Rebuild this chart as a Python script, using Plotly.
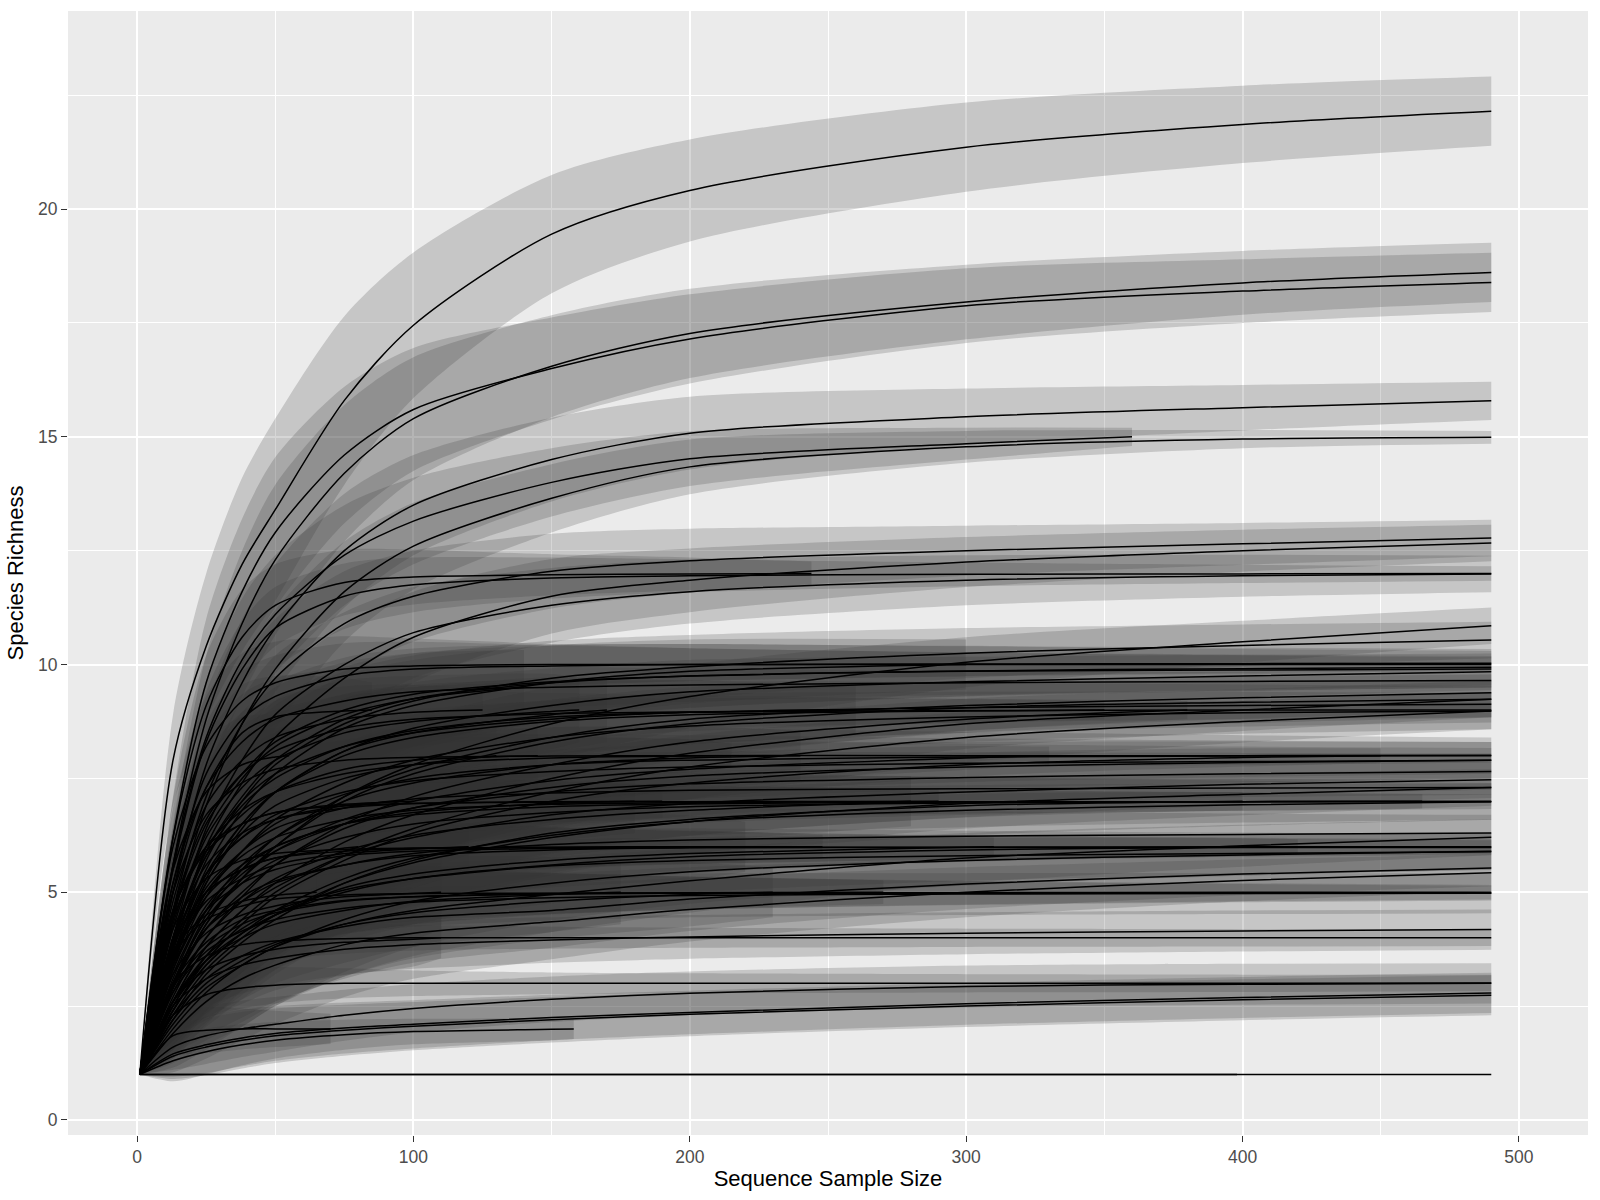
import plotly.graph_objects as go

SAMPLE_SIZES = [1, 13, 25, 38, 50, 75, 100, 150, 200, 300, 400, 490]

X_TICKS = [0, 100, 200, 300, 400, 500]
Y_TICKS = [0, 5, 10, 15, 20]

# Confidence half-width profiles (species), read at SAMPLE_SIZES
HW_A = [0, 1.0, 1.6, 1.9, 2.0, 1.85, 1.6, 1.3, 1.12, 0.98, 0.85, 0.76]
HW_B = [0, 0.9, 1.4, 1.6, 1.65, 1.5, 1.35, 1.12, 0.98, 0.82, 0.7, 0.65]
HW_C = [0, 0.8, 1.25, 1.4, 1.4, 1.25, 1.1, 0.92, 0.8, 0.62, 0.5, 0.42]
HW_CP = [0, 0.8, 1.25, 1.35, 1.3, 1.1, 0.95, 0.75, 0.6, 0.35, 0.2, 0.14]
HW_D = [0, 0.85, 1.25, 1.35, 1.3, 1.15, 1.0, 0.82, 0.7, 0.55, 0.46, 0.4]
HW_DP = [0, 0.85, 1.1, 1.05, 0.9, 0.72, 0.6, 0.45, 0.36, 0.26, 0.2, 0.16]
HW_L = [0, 0.5, 0.62, 0.62, 0.6, 0.56, 0.53, 0.5, 0.48, 0.46, 0.45, 0.44]
HW_LP = [0, 0.45, 0.5, 0.45, 0.4, 0.33, 0.28, 0.24, 0.22, 0.2, 0.19, 0.18]
HW_0 = [0] * 12

# Last sample size of each site's curve
SITE_END = [
    490, 490, 490, 490, 360, 490,               # C1-C6
    490, 490, 490, 244, 490, 490, 490,          # C7-C13
    490, 490, 490, 490, 490, 490, 490, 490,     # D1-D8
    490, 490, 490, 490, 490, 490, 490, 490,     # D9-D16
    490, 490, 490, 490, 490, 490,               # D17-D22
    85, 248, 465, 130, 190, 110,                # E1-E6
    490, 490,                                   # F4a, F4b
    490, 490, 490, 490, 70, 158,                # L1-L5
    490, 398,                                   # Y1, Y1b
    490, 490, 490, 490, 490, 490,               # N1-N6
    490, 490, 490, 490, 490, 490,               # N7-N12
    160, 215, 280, 330, 120, 175, 420,          # M1-M7
    260, 140, 300, 95, 230, 380,                # M8-M13
    450, 110, 65, 55, 180,                      # M15-M19
    240, 310, 170, 490, 400, 270, 145, 350,     # P1-P8
    220, 125, 100, 290, 80,                     # P9-P15
]

# Species richness of each site at SAMPLE_SIZES (up to and including its end)
SITE_RICHNESS = [
    [1, 7.9, 10.4, 12.2, 13.4, 15.8, 17.45, 19.45, 20.41, 21.36, 21.86, 22.15],
    [1, 5.6, 8.8, 10.9, 12.3, 14.2, 15.4, 16.55, 17.27, 17.96, 18.38, 18.61],
    [1, 6.2, 9.6, 11.6, 12.9, 14.6, 15.6, 16.5, 17.15, 17.88, 18.2, 18.39],
    [1, 5.0, 7.8, 9.6, 10.8, 12.5, 13.5, 14.5, 15.08, 15.44, 15.64, 15.79],
    [1, 5.6, 8.4, 10.1, 11.1, 12.4, 13.15, 14.0, 14.52, 14.85, 15.0],
    [1, 4.4, 6.9, 8.7, 9.9, 11.6, 12.6, 13.65, 14.34, 14.78, 14.95, 14.99],
    [1, 4.6, 7.1, 8.7, 9.7, 10.9, 11.5, 12.05, 12.28, 12.5, 12.65, 12.78],
    [1, 3.8, 6.0, 7.4, 8.4, 9.7, 10.6, 11.5, 11.85, 12.25, 12.5, 12.67],
    [1, 5.5, 8.3, 9.9, 10.8, 11.5, 11.75, 11.9, 11.95, 11.98, 11.99, 12.0],
    [1, 6.2, 9.1, 10.6, 11.3, 11.8, 11.92, 11.97, 11.99, 12.0],
    [1, 4.0, 6.4, 7.9, 8.9, 10.0, 10.7, 11.3, 11.6, 11.85, 11.95, 11.99],
    [1, 2.9, 4.3, 5.3, 6.0, 7.1, 7.8, 8.7, 9.3, 10.05, 10.5, 10.85],
    [1, 3.7, 5.7, 7.0, 7.8, 8.7, 9.2, 9.7, 9.95, 10.25, 10.42, 10.54],
    [1, 6.0, 8.2, 9.2, 9.6, 9.9, 9.97, 10.0, 10.0, 10.01, 10.02, 10.03],
    [1, 4.5, 6.5, 7.6, 8.3, 9.0, 9.35, 9.62, 9.75, 9.86, 9.91, 9.94],
    [1, 3.6, 5.4, 6.5, 7.2, 8.1, 8.6, 9.1, 9.4, 9.62, 9.75, 9.84],
    [1, 5.2, 7.3, 8.3, 8.8, 9.2, 9.4, 9.5, 9.55, 9.6, 9.63, 9.65],
    [1, 3.0, 4.5, 5.5, 6.2, 7.1, 7.7, 8.4, 8.8, 9.1, 9.27, 9.38],
    [1, 2.6, 3.8, 4.6, 5.2, 6.1, 6.7, 7.5, 8.05, 8.7, 9.0, 9.24],
    [1, 4.0, 5.9, 7.0, 7.6, 8.2, 8.5, 8.8, 8.95, 9.05, 9.1, 9.13],
    [1, 2.5, 3.6, 4.4, 5.0, 5.8, 6.4, 7.2, 7.75, 8.4, 8.75, 8.98],
    [1, 5.0, 6.7, 7.4, 7.7, 7.9, 7.96, 7.99, 8.0, 8.0, 8.0, 8.01],
    [1, 3.8, 5.4, 6.2, 6.7, 7.2, 7.45, 7.65, 7.75, 7.83, 7.87, 7.9],
    [1, 3.2, 4.6, 5.4, 5.9, 6.5, 6.85, 7.2, 7.38, 7.52, 7.6, 7.65],
    [1, 2.6, 3.8, 4.6, 5.1, 5.8, 6.2, 6.7, 6.95, 7.2, 7.37, 7.47],
    [1, 2.3, 3.3, 4.0, 4.5, 5.2, 5.65, 6.2, 6.55, 6.95, 7.15, 7.3],
    [1, 4.6, 6.0, 6.5, 6.75, 6.9, 6.95, 6.98, 6.99, 6.99, 6.99, 6.99],
    [1, 3.0, 4.2, 4.8, 5.2, 5.6, 5.85, 6.05, 6.15, 6.23, 6.27, 6.3],
    [1, 2.1, 2.9, 3.4, 3.8, 4.3, 4.6, 4.95, 5.25, 5.75, 6.02, 6.21],
    [1, 4.2, 5.3, 5.7, 5.85, 5.94, 5.97, 5.98, 5.98, 5.98, 5.98, 5.98],
    [1, 2.6, 3.6, 4.2, 4.6, 5.05, 5.3, 5.58, 5.7, 5.8, 5.85, 5.89],
    [1, 2.3, 3.1, 3.6, 3.9, 4.25, 4.45, 4.6, 4.85, 5.18, 5.4, 5.53],
    [1, 1.9, 2.6, 3.1, 3.4, 3.85, 4.1, 4.35, 4.62, 5.0, 5.26, 5.43],
    [1, 3.6, 4.4, 4.7, 4.85, 4.94, 4.97, 4.98, 4.98, 4.98, 4.98, 4.98],
    [1, 2.8, 3.7, 4.15, 4.4, 4.65, 4.78, 4.88, 4.93, 4.96, 4.97, 4.98],
    [1, 5.0, 7.3, 8.5, 8.85, 8.98, 9.0],
    [1, 3.8, 5.0, 5.5, 5.75, 5.9, 5.96, 5.99, 6.0, 6.0],
    [1, 3.0, 4.4, 5.2, 5.7, 6.2, 6.5, 6.75, 6.88, 6.96, 6.99, 7.0],
    [1, 3.5, 5.2, 6.3, 6.9, 7.5, 7.8, 8.0],
    [1, 4.0, 5.6, 6.3, 6.6, 6.85, 6.95, 6.99, 7.0],
    [1, 3.2, 4.1, 4.5, 4.7, 4.9, 4.97, 5.0],
    [1, 3.0, 3.6, 3.85, 3.93, 3.98, 4.0, 4.0, 4.0, 4.0, 4.0, 4.0],
    [1, 2.5, 3.1, 3.4, 3.55, 3.75, 3.85, 3.95, 4.02, 4.1, 4.15, 4.18],
    [1, 2.3, 2.75, 2.9, 2.96, 3.0, 3.0, 3.0, 3.0, 3.0, 3.0, 3.01],
    [1, 1.6, 1.85, 2.0, 2.1, 2.3, 2.45, 2.65, 2.78, 2.93, 2.98, 3.0],
    [1, 1.45, 1.65, 1.8, 1.9, 2.02, 2.1, 2.25, 2.36, 2.55, 2.69, 2.79],
    [1, 1.4, 1.6, 1.75, 1.85, 1.97, 2.06, 2.2, 2.32, 2.5, 2.64, 2.74],
    [1, 1.85, 1.97, 2.0, 2.0, 2.0],
    [1, 1.3, 1.5, 1.65, 1.75, 1.87, 1.94, 1.99, 2.0],
    [1, 1, 1, 1, 1, 1, 1, 1, 1, 1, 1, 1],
    [1, 1, 1, 1, 1, 1, 1, 1, 1, 1, 1],
    # N1-N12
    [1, 5.2, 7.6, 8.8, 9.3, 9.75, 9.9, 9.97, 10.0, 10.0, 10.0, 10.0],
    [1, 3.9, 5.9, 7.1, 7.9, 8.8, 9.25, 9.6, 9.75, 9.85, 9.88, 9.9],
    [1, 4.6, 6.6, 7.6, 8.1, 8.6, 8.8, 8.92, 8.96, 8.99, 9.0, 9.0],
    [1, 3.4, 5.0, 5.9, 6.5, 7.15, 7.5, 7.8, 7.9, 7.97, 7.99, 8.0],
    [1, 3.5, 4.9, 5.6, 6.0, 6.5, 6.7, 6.88, 6.94, 6.98, 6.99, 7.0],
    [1, 2.4, 3.4, 4.1, 4.6, 5.3, 5.75, 6.25, 6.55, 6.8, 6.92, 6.99],
    [1, 3.4, 4.6, 5.2, 5.5, 5.8, 5.9, 5.96, 5.98, 5.99, 6.0, 6.0],
    [1, 3.0, 3.9, 4.4, 4.6, 4.82, 4.9, 4.96, 4.98, 4.99, 5.0, 5.0],
    [1, 2.0, 2.8, 3.4, 3.8, 4.4, 4.8, 5.2, 5.45, 5.7, 5.82, 5.9],
    [1, 2.9, 4.2, 5.0, 5.6, 6.4, 6.85, 7.3, 7.55, 7.75, 7.85, 7.9],
    [1, 2.9, 4.3, 5.3, 6.0, 7.0, 7.6, 8.3, 8.7, 9.05, 9.17, 9.24],
    [1, 3.3, 4.9, 5.9, 6.6, 7.4, 7.9, 8.4, 8.65, 8.85, 8.94, 8.98],
    # M1-M13, M15-M19
    [1, 4.2, 6.2, 7.3, 7.9, 8.5, 8.75, 8.97, 9.0],
    [1, 4.4, 6.0, 6.8, 7.2, 7.6, 7.8, 7.95, 7.99, 8.0],
    [1, 2.8, 4.0, 4.8, 5.3, 5.9, 6.25, 6.6, 6.8, 7.0],
    [1, 3.0, 4.4, 5.3, 5.9, 6.6, 7.0, 7.45, 7.7, 7.95, 8.0],
    [1, 3.6, 4.8, 5.3, 5.6, 5.85, 5.95, 6.0],
    [1, 2.6, 3.5, 4.0, 4.3, 4.6, 4.8, 4.95, 5.0],
    [1, 2.5, 3.5, 4.1, 4.5, 5.0, 5.3, 5.6, 5.78, 5.93, 5.99, 6.0],
    [1, 3.9, 5.8, 6.9, 7.5, 8.2, 8.55, 8.85, 8.95, 9.0],
    [1, 4.3, 6.3, 7.5, 8.2, 8.9, 9.25, 9.5],
    [1, 3.6, 5.5, 6.8, 7.6, 8.6, 9.1, 9.6, 9.85, 10.0],
    [1, 3.9, 5.4, 6.2, 6.6, 6.9, 7.0],
    [1, 2.2, 3.0, 3.5, 3.85, 4.3, 4.55, 4.8, 4.95, 5.0],
    [1, 2.7, 4.0, 4.9, 5.6, 6.5, 7.1, 7.8, 8.3, 8.8, 9.0],
    [1, 2.4, 3.5, 4.3, 4.9, 5.7, 6.3, 7.0, 7.4, 7.8, 7.96, 8.0],
    [1, 2.6, 3.3, 3.6, 3.75, 3.9, 3.97, 4.0],
    [1, 3.7, 4.5, 4.8, 4.93, 5.0],
    [1, 5.5, 7.2, 7.8, 7.97, 8.0],
    [1, 3.3, 4.7, 5.5, 6.0, 6.5, 6.75, 6.95, 7.0],
    # P1-P10, P12, P14, P15
    [1, 3.1, 4.6, 5.6, 6.2, 7.0, 7.4, 7.8, 7.95, 8.0],
    [1, 2.4, 3.4, 4.1, 4.5, 5.1, 5.4, 5.7, 5.85, 5.99, 6.0],
    [1, 3.4, 5.2, 6.4, 7.2, 8.1, 8.5, 8.9, 9.0],
    [1, 3.6, 5.1, 5.9, 6.4, 6.85, 7.05, 7.18, 7.24, 7.27, 7.29, 7.3],
    [1, 2.2, 3.2, 3.9, 4.4, 5.2, 5.7, 6.3, 6.6, 6.9, 7.0],
    [1, 2.9, 3.8, 4.3, 4.55, 4.8, 4.9, 4.97, 4.99, 5.0],
    [1, 4.0, 5.8, 6.7, 7.2, 7.7, 7.9, 8.0],
    [1, 3.5, 5.3, 6.5, 7.2, 8.0, 8.4, 8.75, 8.9, 8.98, 9.0],
    [1, 3.0, 4.2, 4.9, 5.25, 5.6, 5.8, 5.93, 5.98, 6.0],
    [1, 4.8, 6.9, 7.9, 8.4, 8.8, 8.95, 9.0],
    [1, 4.6, 5.9, 6.5, 6.75, 6.93, 7.0],
    [1, 3.6, 5.0, 5.8, 6.2, 6.6, 6.8, 6.93, 6.97, 7.0],
    [1, 3.9, 5.0, 5.5, 5.75, 5.97, 6.0],
]

SITE_HW = [
    HW_A, HW_B, HW_B, HW_C, HW_CP, HW_CP,
    HW_D, HW_D, HW_DP, HW_DP, HW_D, HW_D, HW_D,
    HW_DP, HW_D, HW_D, HW_DP, HW_D, HW_D, HW_D, HW_D,
    HW_DP, HW_D, HW_D, HW_D, HW_D, HW_DP, HW_D, HW_D,
    HW_DP, HW_D, HW_D, HW_D, HW_DP, HW_L,
    HW_DP, HW_DP, HW_DP, HW_D, HW_DP, HW_D,
    HW_LP, HW_L,
    HW_LP, HW_L, HW_L, HW_L, HW_LP, HW_LP,
    HW_0, HW_0,
    HW_DP, HW_D, HW_DP, HW_D, HW_D, HW_D,
    HW_DP, HW_DP, HW_D, HW_D, HW_D, HW_D,
    HW_D, HW_DP, HW_D, HW_DP, HW_DP, HW_D, HW_DP,
    HW_D, HW_D, HW_D, HW_DP, HW_D, HW_DP,
    HW_DP, HW_DP, HW_DP, HW_DP, HW_D,
    HW_D, HW_DP, HW_D, HW_DP, HW_DP, HW_DP, HW_D, HW_DP,
    HW_D, HW_DP, HW_DP, HW_DP, HW_DP,
]

RIBBON_FILL = "rgba(51,51,51,0.2)"
FONT = "Liberation Sans, Arial, sans-serif"

fig = go.Figure()

assert len(SITE_END) == len(SITE_RICHNESS) == len(SITE_HW)
sites = []
for end, ys, hw in zip(SITE_END, SITE_RICHNESS, SITE_HW):
    xs = [s for s in SAMPLE_SIZES if s < end] + [end]
    assert len(xs) == len(ys), (end, len(xs), len(ys))
    h = hw[:len(xs)]
    sites.append((xs, ys, h))

# ribbons first (like geom_ribbon layer)
for xs, ys, h in sites:
    if max(h) == 0:
        continue
    lo = [y - d for y, d in zip(ys, h)]
    hi = [y + d for y, d in zip(ys, h)]
    fig.add_trace(go.Scatter(x=xs, y=lo, mode="lines",
                             line=dict(width=0, shape="spline", smoothing=0.8),
                             hoverinfo="skip", showlegend=False))
    fig.add_trace(go.Scatter(x=xs, y=hi, mode="lines", fill="tonexty",
                             fillcolor=RIBBON_FILL,
                             line=dict(width=0, shape="spline", smoothing=0.8),
                             hoverinfo="skip", showlegend=False))

# lines on top (geom_line layer)
for xs, ys, h in sites:
    fig.add_trace(go.Scatter(x=xs, y=ys, mode="lines",
                             line=dict(color="black", width=1.5,
                                       shape="spline", smoothing=0.8),
                             hoverinfo="skip", showlegend=False))

axis_common = dict(
    showline=False, zeroline=False,
    showgrid=True, gridcolor="white", gridwidth=1.8,
    ticks="outside", ticklen=6, tickwidth=1.3, tickcolor="#333333",
    tickfont=dict(family=FONT, size=17.5, color="#4d4d4d"),
)

fig.update_layout(
    width=1600, height=1200,
    margin=dict(l=68, r=12, t=11, b=65, pad=0),
    paper_bgcolor="white", plot_bgcolor="#ebebeb",
    showlegend=False,
    xaxis=dict(
        range=[-25, 525], tickvals=X_TICKS, ticktext=[str(v) for v in X_TICKS],
        minor=dict(dtick=50, tick0=0, showgrid=True, gridcolor="white",
                   gridwidth=0.9, ticks=""),
        title=dict(text="Sequence Sample Size",
                   font=dict(family=FONT, size=22, color="black"), standoff=4),
        **axis_common,
    ),
    yaxis=dict(
        range=[-0.33, 24.35], tickvals=Y_TICKS, ticktext=[str(v) for v in Y_TICKS],
        minor=dict(dtick=2.5, tick0=0, showgrid=True, gridcolor="white",
                   gridwidth=0.9, ticks=""),
        title=dict(text="Species Richness",
                   font=dict(family=FONT, size=22, color="black"), standoff=8),
        **axis_common,
    ),
)

fig.write_html("out.html", config={"displayModeBar": False},
               post_script="document.body.style.margin='0';")
